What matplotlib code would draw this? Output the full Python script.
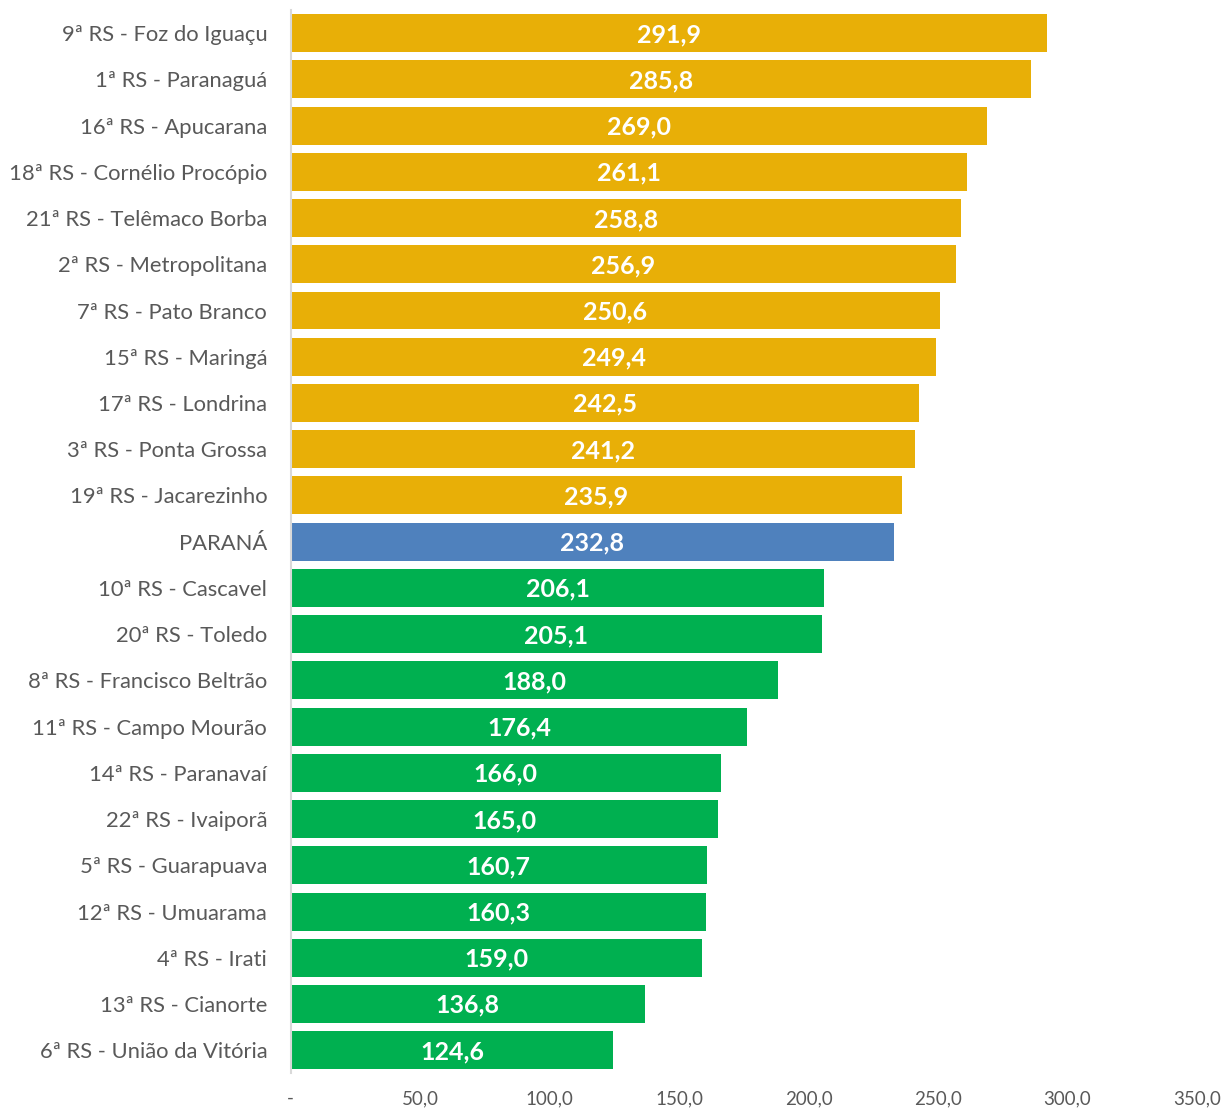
#!/usr/bin/env python3
import matplotlib.pyplot as plt
import numpy as np

plt.rcParams['font.family'] = ['Lato', 'DejaVu Sans']

regions = ["9ª RS - Foz do Iguaçu", "1ª RS - Paranaguá", "16ª RS - Apucarana",
           "18ª RS - Cornélio Procópio", "21ª RS - Telêmaco Borba", "2ª RS - Metropolitana",
           "7ª RS - Pato Branco", "15ª RS - Maringá", "17ª RS - Londrina",
           "3ª RS - Ponta Grossa", "19ª RS - Jacarezinho", "PARANÁ",
           "10ª RS - Cascavel", "20ª RS - Toledo", "8ª RS - Francisco Beltrão",
           "11ª RS - Campo Mourão", "14ª RS - Paranavaí", "22ª RS - Ivaiporã",
           "5ª RS - Guarapuava", "12ª RS - Umuarama", "4ª RS - Irati",
           "13ª RS - Cianorte", "6ª RS - União da Vitória"]
values = [291.9, 285.8, 269.0, 261.1, 258.8, 256.9, 250.6, 249.4, 242.5, 241.2, 235.9,
          232.8, 206.1, 205.1, 188.0, 176.4, 166.0, 165.0, 160.7, 160.3, 159.0, 136.8, 124.6]
state_value = 232.8
xticks = [0, 50, 100, 150, 200, 250, 300, 350]

GOLD = "#E8AF07"
BLUE = "#4F81BD"
GREEN = "#00B050"

colors = []
for name, v in zip(regions, values):
    if name == "PARANÁ":
        colors.append(BLUE)
    elif v > state_value:
        colors.append(GOLD)
    else:
        colors.append(GREEN)

fig = plt.figure(figsize=(12.27, 11.10), dpi=100)
ax = fig.add_axes([0.237, 0.033, 0.7385, 0.958])

y = np.arange(len(regions))
ax.barh(y, values, height=0.82, color=colors)
ax.set_ylim(len(regions) - 0.5, -0.5)
ax.set_xlim(0, 350)

for yi, v in zip(y, values):
    ax.text(v / 2, yi + 0.03, f"{v:.1f}".replace(".", ","), ha="center", va="center",
            color="white", fontsize=18, fontweight="bold")

ax.set_yticks(y)
ax.set_yticklabels(regions, fontsize=15.8, color="#595959")
ax.set_xticks(xticks)
ax.set_xticklabels(["-"] + [f"{t:.1f}".replace(".", ",") for t in xticks[1:]],
                   fontsize=13.5, color="#595959")
ax.tick_params(axis="both", length=0)
ax.tick_params(axis="x", pad=12)
ax.tick_params(axis="y", pad=17)

for s in ["top", "right", "bottom"]:
    ax.spines[s].set_visible(False)
ax.spines["left"].set_color("#D9D9D9")
ax.spines["left"].set_linewidth(1.5)

fig.savefig("out.png", dpi=100)
